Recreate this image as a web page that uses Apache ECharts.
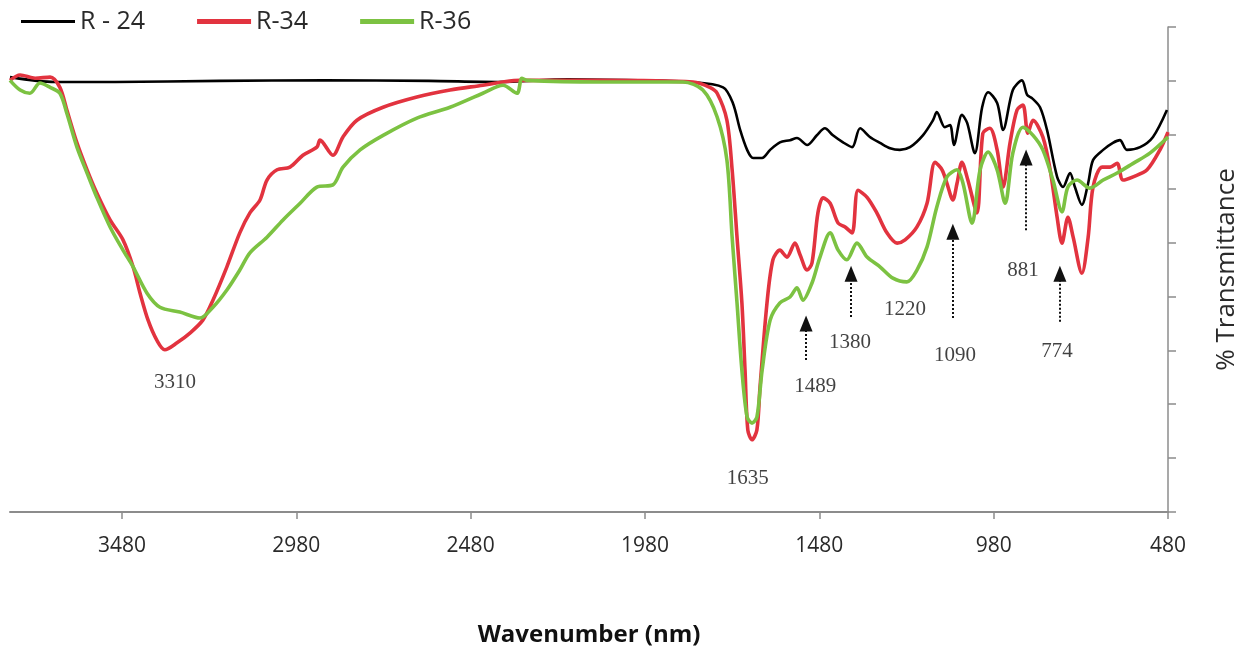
<!DOCTYPE html>
<html>
<head>
<meta charset="utf-8">
<script src="https://cdn.jsdelivr.net/npm/echarts@6/dist/echarts.min.js"></script>
<style>
  html, body { margin: 0; padding: 0; background: #fff; }
  #chart { width: 1236px; height: 649px; }
</style>
</head>
<body>
<div id="chart"></div>
<script>
// wavenumber (cm-1), relative transmittance
const r24 = [
  [3801, 80.7], [3672, 79.8], [3500, 79.8], [3200, 80.0], [2900, 80.1], [2600, 80.0],
  [2400, 79.8], [2200, 80.3], [2000, 80.1], [1851, 79.8], [1756, 78.8], [1728, 75.9],
  [1707, 70.9], [1687, 67.2], [1670, 65.7], [1644, 65.7], [1621, 67.2], [1593, 68.6],
  [1564, 69.0], [1544, 69.4], [1515, 68.1], [1487, 69.9], [1464, 71.2], [1441, 69.9],
  [1412, 68.6], [1386, 67.7], [1363, 71.2], [1335, 69.6], [1306, 68.5], [1277, 67.5],
  [1249, 67.2], [1220, 67.7], [1183, 69.9], [1154, 72.7], [1143, 74.2], [1120, 71.4],
  [1105, 71.8], [1094, 68.1], [1071, 73.7], [1056, 72.2], [1034, 66.6], [1013, 75.1],
  [996, 77.9], [970, 75.9], [953, 70.9], [925, 78.3], [899, 80.1], [884, 77.4],
  [870, 76.8], [847, 75.1], [827, 70.9], [798, 62.2], [781, 60.3], [761, 62.9],
  [747, 60.3], [727, 57.0], [709, 61.0], [695, 65.3], [666, 67.2], [638, 68.5],
  [618, 69.0], [598, 67.2], [560, 67.7], [523, 69.6], [483, 74.6]
];
const r34 = [
  [3801, 80.1], [3772, 81.1], [3729, 80.5], [3686, 80.7], [3658, 78.8], [3638, 74.6],
  [3609, 68.5], [3580, 63.5], [3552, 59.2], [3514, 54.2], [3477, 50.5], [3448, 45.5],
  [3428, 40.6], [3405, 35.6], [3380, 31.9], [3357, 30.1], [3322, 31.4], [3285, 33.2],
  [3248, 35.6], [3219, 39.3], [3179, 45.5], [3142, 51.8], [3113, 55.5], [3084, 57.9],
  [3064, 61.6], [3035, 63.5], [2998, 64.0], [2961, 66.2], [2921, 67.7], [2912, 69.0],
  [2875, 66.2], [2846, 69.6], [2806, 72.7], [2731, 75.1], [2634, 77.0], [2539, 78.3],
  [2445, 79.2], [2387, 79.8], [2338, 80.1], [2109, 80.1], [1842, 79.8], [1794, 78.8],
  [1773, 77.7], [1745, 72.7], [1730, 63.5], [1716, 51.0], [1702, 38.8], [1693, 26.3],
  [1685, 15.2], [1673, 13.4], [1659, 15.2], [1650, 23.2], [1630, 38.8], [1613, 46.8],
  [1593, 48.6], [1573, 47.3], [1550, 49.9], [1535, 47.7], [1515, 44.9], [1501, 46.2],
  [1484, 55.5], [1469, 58.3], [1449, 57.3], [1426, 53.6], [1406, 52.9], [1386, 51.8],
  [1369, 59.7], [1343, 58.4], [1315, 55.5], [1286, 51.8], [1257, 49.9], [1234, 50.5],
  [1200, 52.9], [1171, 57.3], [1148, 64.9], [1128, 63.5], [1114, 61.0], [1097, 57.9],
  [1085, 61.0], [1071, 64.9], [1054, 61.6], [1028, 55.5], [1011, 70.3], [991, 71.2],
  [970, 67.2], [953, 60.3], [933, 68.5], [913, 74.6], [896, 75.5], [882, 70.3],
  [867, 72.7], [839, 69.6], [818, 63.5], [798, 54.7], [784, 49.9], [767, 54.7],
  [752, 51.0], [727, 44.3], [709, 51.0], [695, 60.3], [669, 64.0], [646, 64.0],
  [626, 64.7], [609, 61.6], [580, 62.2], [540, 63.5], [503, 67.2], [480, 70.5]
];
const r36 = [
  [3801, 80.1], [3772, 78.3], [3744, 77.7], [3715, 79.6], [3686, 78.8], [3658, 77.7],
  [3638, 74.0], [3609, 67.7], [3580, 62.9], [3552, 58.4], [3514, 52.9], [3477, 48.6],
  [3448, 45.5], [3408, 40.6], [3371, 38.0], [3314, 37.1], [3256, 36.0], [3219, 38.0],
  [3179, 41.2], [3142, 44.9], [3113, 48.1], [3064, 51.0], [3018, 54.2], [2969, 57.3],
  [2921, 60.3], [2875, 60.7], [2846, 64.0], [2797, 67.2], [2731, 69.9], [2634, 73.1],
  [2539, 75.1], [2445, 77.7], [2387, 79.2], [2347, 77.7], [2333, 80.5], [2318, 80.1],
  [2109, 79.8], [1871, 79.8], [1814, 78.3], [1773, 73.3], [1745, 65.3], [1730, 51.0],
  [1716, 38.8], [1702, 26.3], [1687, 17.6], [1673, 16.5], [1659, 17.6], [1644, 26.3],
  [1621, 35.6], [1593, 38.8], [1564, 39.9], [1544, 41.6], [1527, 39.3], [1501, 42.5],
  [1478, 47.3], [1449, 51.8], [1426, 48.6], [1401, 46.8], [1372, 49.9], [1343, 47.3],
  [1306, 45.5], [1269, 43.4], [1229, 42.7], [1200, 44.9], [1171, 49.2], [1143, 56.6],
  [1114, 62.2], [1085, 63.5], [1068, 61.0], [1042, 53.6], [1019, 63.5], [996, 66.8],
  [970, 63.5], [947, 57.3], [925, 66.6], [896, 71.4], [867, 69.9], [839, 67.2],
  [810, 61.6], [784, 55.7], [767, 60.3], [741, 61.6], [704, 60.1], [666, 61.6],
  [626, 62.9], [580, 64.7], [532, 66.6], [480, 69.6]
];

const xTicks = [3480, 2980, 2480, 1980, 1480, 980, 480];

// peak labels: [wavenumber, level, text]
const peakLabels = [
  [3328, 24.1, '3310'], [1685, 6.3, '1635'], [1492, 23.2, '1489'], [1392, 31.4, '1380'],
  [1234, 37.5, '1220'], [1091, 29.1, '1090'], [896, 44.9, '881'], [798, 29.7, '774']
];
// arrows: [wavenumber, tail level, head level]
const arrows = [
  [1518, 28.2, 35.0], [1389, 36.2, 44.2], [1097, 36.0, 52.0], [887, 52.3, 65.8], [790, 35.3, 44.2]
];

const chart = echarts.init(document.getElementById('chart'));

const axisGray = '#8c8c8c';
// legend swatches: plain bars, thin for black, thick for red/green
const thinBar = 'path://M0,0H54V3H0Z';
const thickBar = 'path://M0,0H54V5H0Z';

chart.setOption({
  animation: false,
  backgroundColor: '#fff',
  legend: {
    data: [
      { name: 'R - 24', icon: thinBar },
      { name: 'R-34', icon: thickBar },
      { name: 'R-36', icon: thickBar }
    ],
    left: 16,
    top: 4,
    itemWidth: 54,
    itemHeight: 14,
    itemGap: 52,
    textStyle: { fontFamily: 'Open Sans', fontSize: 25, color: '#2a2a2a' }
  },
  grid: { left: 10, right: 68, top: 27, bottom: 137, outerBoundsMode: 'none' },
  xAxis: {
    type: 'value',
    inverse: true,
    min: 480,
    max: 3801,
    interval: 500,
    name: 'Wavenumber (nm)',
    nameLocation: 'middle',
    nameGap: 111,
    nameTextStyle: { fontFamily: 'Open Sans', fontSize: 24, fontWeight: 'bold', color: '#111' },
    axisLine: { lineStyle: { color: axisGray, width: 2 } },
    axisTick: { customValues: xTicks, length: 7, lineStyle: { color: axisGray, width: 1.5 } },
    axisLabel: {
      customValues: xTicks, margin: 24, formatter: v => String(v),
      fontFamily: 'Open Sans', fontSize: 21, color: '#2a2a2a'
    },
    splitLine: { show: false }
  },
  yAxis: {
    type: 'value',
    position: 'right',
    min: 0,
    max: 90,
    interval: 10,
    name: '% Transmittance',
    nameLocation: 'middle',
    nameGap: 46,
    nameRotate: 90,
    nameTextStyle: { fontFamily: 'Open Sans', fontSize: 26, color: '#2a2a2a' },
    axisLine: { show: true, lineStyle: { color: axisGray, width: 1.5 } },
    axisTick: { show: true, length: 8, lineStyle: { color: axisGray, width: 1.5 } },
    axisLabel: { show: false },
    splitLine: { show: false }
  },
  series: [
    {
      name: 'R - 24', type: 'line', data: r24, symbol: 'none', smooth: 0.3,
      lineStyle: { color: '#000', width: 2.6 }, itemStyle: { color: '#000' }
    },
    {
      name: 'R-34', type: 'line', data: r34, symbol: 'none', smooth: 0.3,
      lineStyle: { color: '#e2333f', width: 3.6 }, itemStyle: { color: '#e2333f' }
    },
    {
      name: 'R-36', type: 'line', data: r36, symbol: 'none', smooth: 0.3,
      lineStyle: { color: '#7cc242', width: 3.6 }, itemStyle: { color: '#7cc242' }
    },
    {
      name: 'peaks', type: 'scatter', data: peakLabels, symbolSize: 0, silent: true,
      label: {
        show: true, position: 'inside', formatter: p => p.value[2],
        fontFamily: 'Liberation Serif', fontSize: 21, color: '#111'
      },
      markLine: {
        silent: true,
        symbol: ['none', 'triangle'],
        symbolSize: [13, 16],
        label: { show: false },
        lineStyle: { color: '#111', width: 2, type: [2, 2] },
        data: arrows.map(a => [{ coord: [a[0], a[1]] }, { coord: [a[0], a[2]] }])
      }
    }
  ]
});
</script>
</body>
</html>
